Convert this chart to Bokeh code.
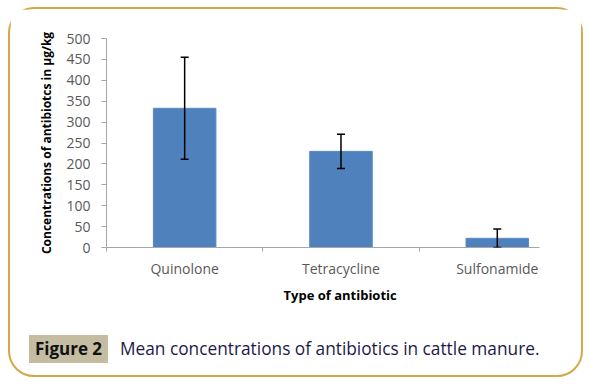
from bokeh.plotting import figure
from bokeh.layouts import column
from bokeh.models import (Range1d, FixedTicker, Whisker, TeeHead, ColumnDataSource,
                          Div, Title)
from bokeh.embed import file_html
from bokeh.resources import INLINE

categories = ["Quinolone", "Tetracycline", "Sulfonamide"]
means = [333, 230, 22]
errors = [122, 41, 22]
y_ticks = [0, 50, 100, 150, 200, 250, 300, 350, 400, 450, 500]
caption_label = "Figure 2"
caption_text = "Mean concentrations of antibiotics in cattle manure."

xpos = [i + 0.5 for i in range(len(categories))]
src = ColumnDataSource(dict(
    x=xpos, top=means,
    upper=[m + e for m, e in zip(means, errors)],
    lower=[m - e for m, e in zip(means, errors)],
))

FONT = "Open Sans"
W = 571

p = figure(width=W, height=308, output_backend="svg", toolbar_location=None,
           x_range=Range1d(0, 2.77), y_range=Range1d(0, 500))
p.min_border_left = 96
p.min_border_right = 42
p.min_border_top = 29
p.min_border_bottom = 70
p.outline_line_color = None
p.grid.visible = False

p.vbar(x="x", top="top", width=0.4, source=src, fill_color="#4F81BD",
       line_color="#5A8AC6", line_width=1)
w = Whisker(base="x", upper="upper", lower="lower", source=src,
            line_color="black", line_width=1.5, level="overlay",
            upper_head=TeeHead(size=8, line_color="black", line_width=1.5),
            lower_head=TeeHead(size=8, line_color="black", line_width=1.5))
p.add_layout(w)

ax = p.xaxis[0]
ax.ticker = FixedTicker(ticks=xpos, minor_ticks=[0, 1, 2])
ax.major_label_overrides = {x: c for x, c in zip(xpos, categories)}
ax.major_tick_line_color = None
ax.major_tick_out = 0
ax.major_tick_in = 0
ax.minor_tick_out = 4
ax.minor_tick_in = 0
ax.minor_tick_line_color = "#A6A6A6"
ax.axis_line_color = "#A6A6A6"
ax.major_label_text_font = FONT
ax.major_label_text_font_size = "14px"
ax.major_label_text_color = "#595959"
ax.major_label_standoff = 7

ay = p.yaxis[0]
ay.ticker = FixedTicker(ticks=y_ticks, minor_ticks=[])
ay.axis_line_color = "#A6A6A6"
ay.major_tick_line_color = "#A6A6A6"
ay.major_tick_out = 5
ay.major_tick_in = 0
ay.minor_tick_line_color = None
ay.major_label_text_font = FONT
ay.major_label_text_font_size = "14px"
ay.major_label_text_color = "#595959"
ay.major_label_standoff = 11
ay.axis_label = "Concentrations of antibiotcs in \u00b5g/kg"
ay.axis_label_text_font = FONT
ay.axis_label_text_font_style = "bold"
ay.axis_label_text_font_size = "12px"
ay.axis_label_text_color = "black"
ay.axis_label_standoff = 8

p.add_layout(Title(text="Type of antibiotic", align="left", offset=177,
                   text_font=FONT, text_font_style="bold", text_font_size="13px",
                   text_color="black", standoff=6), "below")

html = (
    '<div style="position:relative;width:571px;height:58px;font-family:\'Open Sans\';">'
    '<span style="position:absolute;left:19px;top:18px;width:79px;height:28px;'
    'background:#C4BDA2;color:#111111;font-weight:bold;font-size:17px;'
    'line-height:28px;text-align:center;">' + caption_label + '</span>'
    '<span style="position:absolute;left:110px;top:18px;height:28px;line-height:28px;'
    'color:#1C1A4A;font-size:17.3px;white-space:nowrap;">' + caption_text + '</span>'
    '</div>'
)
cap = Div(text=html, width=W, height=58, margin=0)

inner = column(p, cap, spacing=0, margin=0,
               styles={"border": "2px solid #D4A749", "border-radius": "26px",
                       "background": "white"})
layout = column(inner, margin=(7, 0, 0, 8))

open("out.html", "w").write(file_html(layout, INLINE))
